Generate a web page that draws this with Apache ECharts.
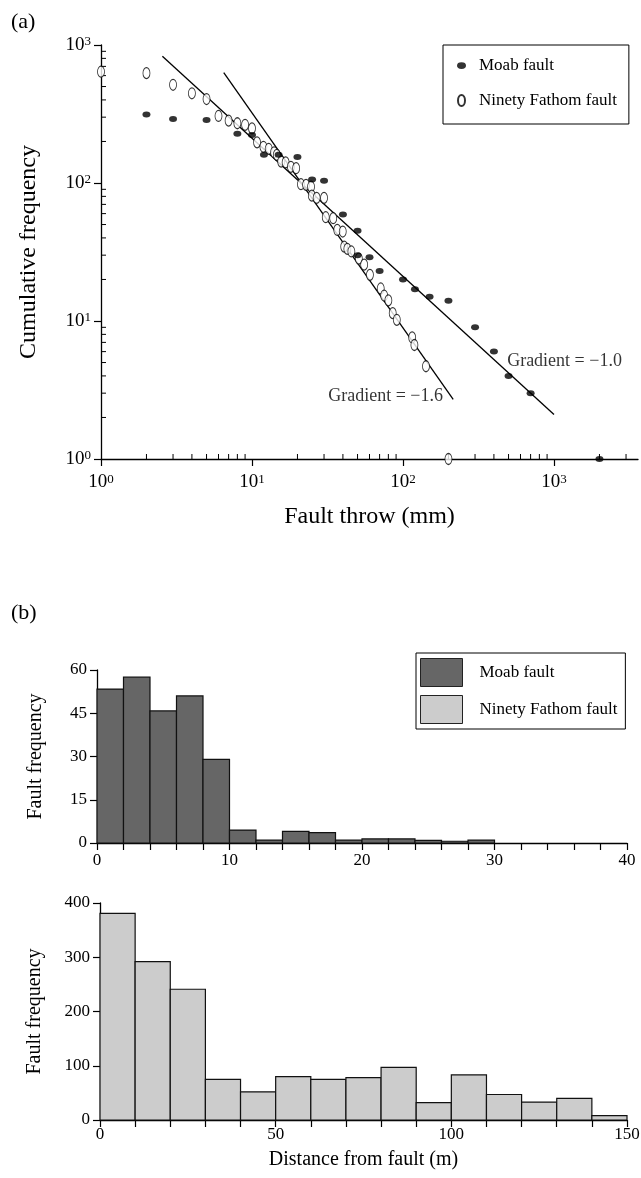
<!DOCTYPE html>
<html><head><meta charset="utf-8">
<script src="https://cdn.jsdelivr.net/npm/echarts@6/dist/echarts.min.js"></script>
<style>html,body{margin:0;padding:0;background:#fff}#c{width:641px;height:1178px}</style>
</head><body><div id="c"></div>
<script>
const FONT = 'Liberation Serif';
// ---- Panel (a): cumulative frequency vs fault throw ----
const moabThrow = [2,3,5,8,10,12,15,20,25,30,40,50,50,60,70,100,120,150,200,300,400,500,700,2000];
const moabCum   = [313,291,286,227,223,160,160,154,106,104,59,45,30,29,23,20,17,15,14,9,6,4,3,1];
const nfThrow = [1,2,3,4,5,6,7,8,9,10,10.8,11.9,12.9,14,14.6,15.6,16.7,18.1,19.6,21.1,22.8,24.6,24.9,26.8,30,30.8,34.5,36.7,39.9,40.8,42.8,45.5,51,55.3,60.4,71.2,75,80,85.5,91,115,119,142,200];
const nfCum   = [640,625,515,447,406,306,283,271,264,249,197,183,177,167,160,143,141,131,128,98,97,94,81,78,78,56.5,55.6,45.7,44.5,34.6,33.3,31.9,28.3,25.6,21.6,17.2,15.3,14.1,11.4,10.2,7.6,6.7,4.7,1];
const fitGrad10 = [[2.55, 830], [1000, 2.1]];
const fitGrad16 = [[6.5, 630], [215, 2.7]];
const gradLabel10 = [489, 5.07];
const gradLabel16 = [184, 2.83];
const throwMinorTicks = [2,3,4,5,6,7,8,9,20,30,40,50,60,70,80,90,200,300,400,500,600,700,800,900,2000,3000];
const freqMinorTicks = [2,3,4,5,6,7,8,9,20,30,40,50,60,70,80,90,200,300,400,500,600,700,800,900];
// ---- Panel (b): histograms ----
const moabBinStart = [0,2,4,6,8,10,12,14,16,18,20,22,24,26,28,30,32,34,36,38];
const moabCounts   = [53.4,57.5,45.8,51,29,4.5,1,4,3.6,1,1.4,1.4,0.9,0.6,1,0,0,0,0,0];
const nfBinStart = [0,10,20,30,40,50,60,70,80,90,100,110,120,130,140];
const nfCounts   = [381,292,241,75,52,80,75,78,97,32,83,47,33,40,8];

const ellipseH = 'path://M0,3A4,3 0 1,1 8,3A4,3 0 1,1 0,3Z';
const ellipseV = 'path://M0,5.5A3.5,5.5 0 1,1 7,5.5A3.5,5.5 0 1,1 0,5.5Z';

function zip(a, b) { return a.map((v, i) => [v, b[i]]); }
function powLabel(v) {
  const e = Math.log10(v);
  if (Math.abs(e - Math.round(e)) > 1e-6) return '';
  return '{b|10}{s|' + Math.round(e) + '}';
}
const powRich = {
  b: { fontFamily: FONT, fontSize: 19, color: '#000' },
  s: { fontFamily: FONT, fontSize: 13, color: '#000', verticalAlign: 'top' }
};
const axisLineStyle = { show: true, lineStyle: { color: '#000', width: 1.3 } };
const tickStyle = { show: true, inside: false, length: 7, lineStyle: { color: '#000', width: 1.2 } };

function histRender(width, fill) {
  return function (params, api) {
    const x0 = api.value(0), c = api.value(1);
    if (!(c > 0)) return null;
    const p0 = api.coord([x0, c]);
    const p1 = api.coord([x0 + width, 0]);
    return { type: 'rect', shape: { x: p0[0], y: p0[1], width: p1[0] - p0[0], height: p1[1] - p0[1] },
      style: { fill: fill, stroke: '#111', lineWidth: 1.2 } };
  };
}

const chart = echarts.init(document.getElementById('c'), null, { renderer: 'canvas' });
const option = {
  backgroundColor: '#fff',
  animation: false,
  textStyle: { fontFamily: FONT, color: '#000' },
  title: [
    { text: '(a)', left: 6, top: 6, textStyle: { fontFamily: FONT, fontSize: 22, fontWeight: 'normal', color: '#000' } },
    { text: '(b)', left: 6, top: 597, textStyle: { fontFamily: FONT, fontSize: 22, fontWeight: 'normal', color: '#000' } }
  ],
  grid: [
    { left: 101, top: 45, width: 537, height: 414, outerBoundsMode: 'none' },
    { left: 97, top: 670, width: 530, height: 173, outerBoundsMode: 'none' },
    { left: 100, top: 903, width: 527, height: 217, outerBoundsMode: 'none' }
  ],
  xAxis: [
    { type: 'log', logBase: 10, gridIndex: 0, min: 1, max: 3600,
      axisLine: axisLineStyle, axisTick: tickStyle, splitLine: { show: false },
      axisLabel: { formatter: powLabel, rich: powRich, margin: 14, showMaxLabel: false },
      name: 'Fault throw (mm)', nameLocation: 'middle', nameGap: 46,
      nameTextStyle: { fontFamily: FONT, fontSize: 24, color: '#000' } },
    { type: 'value', gridIndex: 1, min: 0, max: 40, interval: 2,
      axisLine: axisLineStyle, axisTick: tickStyle, splitLine: { show: false },
      axisLabel: { formatter: v => (v % 10 === 0 ? String(v) : ''), fontFamily: FONT, fontSize: 17, color: '#000', margin: 9 } },
    { type: 'value', gridIndex: 2, min: 0, max: 150, interval: 10,
      axisLine: axisLineStyle, axisTick: tickStyle, splitLine: { show: false },
      axisLabel: { formatter: v => (v % 50 === 0 ? String(v) : ''), fontFamily: FONT, fontSize: 17, color: '#000', margin: 6 },
      name: 'Distance from fault (m)', nameLocation: 'middle', nameGap: 30,
      nameTextStyle: { fontFamily: FONT, fontSize: 20, color: '#000' } }
  ],
  yAxis: [
    { type: 'log', logBase: 10, gridIndex: 0, min: 1, max: 1000,
      axisLine: axisLineStyle, axisTick: tickStyle, splitLine: { show: false },
      axisLabel: { formatter: powLabel, rich: powRich, margin: 10 },
      name: 'Cumulative frequency', nameLocation: 'middle', nameGap: 60,
      nameTextStyle: { fontFamily: FONT, fontSize: 24, color: '#000' } },
    { type: 'value', gridIndex: 1, min: 0, max: 60, interval: 15,
      axisLine: axisLineStyle, axisTick: tickStyle, splitLine: { show: false },
      axisLabel: { fontFamily: FONT, fontSize: 17, color: '#000', margin: 10 },
      name: 'Fault frequency', nameLocation: 'middle', nameGap: 51,
      nameTextStyle: { fontFamily: FONT, fontSize: 20, color: '#000' } },
    { type: 'value', gridIndex: 2, min: 0, max: 400, interval: 100,
      axisLine: axisLineStyle, axisTick: tickStyle, splitLine: { show: false },
      axisLabel: { fontFamily: FONT, fontSize: 17, color: '#000', margin: 10 },
      name: 'Fault frequency', nameLocation: 'middle', nameGap: 55,
      nameTextStyle: { fontFamily: FONT, fontSize: 20, color: '#000' } }
  ],
  legend: [
    { orient: 'vertical', left: 443, top: 45, padding: [12, 12, 15, 14], itemGap: 18,
      itemWidth: 9, itemHeight: 11, borderColor: '#000', borderWidth: 1, selectedMode: false,
      data: [{ name: 'Moab fault', icon: ellipseH }, { name: 'Ninety Fathom fault', icon: ellipseV }],
      formatter: n => '{g|}' + n,
      textStyle: { fontFamily: FONT, fontSize: 17, color: '#000', rich: { g: { width: 8 } } } },
    { orient: 'vertical', left: 416, top: 653, padding: [5, 8, 5, 4], itemGap: 8,
      itemWidth: 42, itemHeight: 28, borderColor: '#000', borderWidth: 1, selectedMode: false,
      data: [{ name: 'Moab fault ', icon: 'rect' }, { name: 'Ninety Fathom fault ', icon: 'rect' }],
      itemStyle: { borderColor: '#222', borderWidth: 1 },
      formatter: n => '{g|}' + n.trim(),
      textStyle: { fontFamily: FONT, fontSize: 17, color: '#000', rich: { g: { width: 12 } } } }
  ],
  series: [
    { name: 'Moab fault', type: 'scatter', xAxisIndex: 0, yAxisIndex: 0, data: zip(moabThrow, moabCum),
      symbol: ellipseH, symbolSize: [8, 6], symbolKeepAspect: false, itemStyle: { color: '#000' }, z: 5 },
    { name: 'Ninety Fathom fault', type: 'scatter', xAxisIndex: 0, yAxisIndex: 0, data: zip(nfThrow, nfCum),
      symbol: ellipseV, symbolSize: [7, 11], symbolKeepAspect: false,
      itemStyle: { color: '#fff', borderColor: '#000', borderWidth: 1 }, z: 4 },
    { type: 'line', xAxisIndex: 0, yAxisIndex: 0, data: fitGrad10, symbol: 'none', silent: true,
      lineStyle: { color: '#000', width: 1.3 }, z: 3 },
    { type: 'line', xAxisIndex: 0, yAxisIndex: 0, data: fitGrad16, symbol: 'none', silent: true,
      lineStyle: { color: '#000', width: 1.3 }, z: 3 },
    { type: 'scatter', xAxisIndex: 0, yAxisIndex: 0, silent: true, symbolSize: 0.1,
      itemStyle: { color: 'rgba(0,0,0,0)' },
      data: [{ value: gradLabel10, label: { show: true, position: 'right', distance: 0, formatter: 'Gradient = \u22121.0' } },
             { value: gradLabel16, label: { show: true, position: 'left', distance: 0, formatter: 'Gradient = \u22121.6' } }],
      label: { fontFamily: FONT, fontSize: 18, color: '#000' } },
    { type: 'custom', xAxisIndex: 0, yAxisIndex: 0, silent: true, clip: false,
      data: throwMinorTicks.map(v => [v, 1]),
      renderItem: (params, api) => {
        const p = api.coord([api.value(0), 1]);
        return { type: 'line', shape: { x1: p[0], y1: p[1], x2: p[0], y2: p[1] - 5 }, style: { stroke: '#000', lineWidth: 1 } };
      } },
    { type: 'custom', xAxisIndex: 0, yAxisIndex: 0, silent: true, clip: false,
      data: freqMinorTicks.map(v => [1, v]),
      renderItem: (params, api) => {
        const p = api.coord([1, api.value(1)]);
        return { type: 'line', shape: { x1: p[0], y1: p[1], x2: p[0] + 5, y2: p[1] }, style: { stroke: '#000', lineWidth: 1 } };
      } },
    { name: 'Moab fault ', type: 'custom', xAxisIndex: 1, yAxisIndex: 1, silent: true,
      itemStyle: { color: '#666666' }, data: zip(moabBinStart, moabCounts), renderItem: histRender(2, '#666666') },
    { name: 'Ninety Fathom fault ', type: 'custom', xAxisIndex: 2, yAxisIndex: 2, silent: true,
      itemStyle: { color: '#cccccc' }, data: zip(nfBinStart, nfCounts), renderItem: histRender(10, '#cccccc') }
  ]
};
chart.setOption(option);
</script>
</body></html>
